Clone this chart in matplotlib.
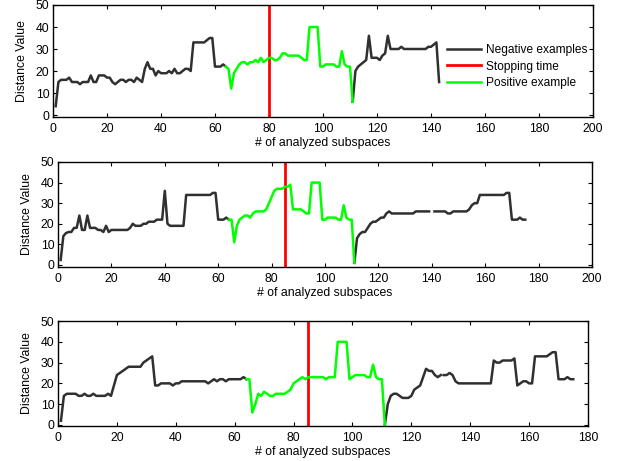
import numpy as np
import matplotlib
matplotlib.use("Agg")
import matplotlib.pyplot as plt

plt.rcParams['font.family'] = ['Liberation Sans', 'DejaVu Sans']
plt.rcParams['font.size'] = 8.5

# ---------------- data ----------------
# Panel 1
neg1a_x = list(range(1, 65))
neg1a_y = [4, 15, 16, 16, 16, 17, 15, 15, 15, 14, 15, 15, 15, 18, 15, 15, 18, 18, 18, 17,
           17, 15, 14, 15, 16, 16, 15, 16, 16, 15, 17, 16, 15, 21, 24, 21, 21, 18, 20, 19,
           19, 19, 20, 19, 21, 19, 19, 20, 21, 21, 20, 33, 33, 33, 33, 33, 34, 35, 35, 22,
           22, 22, 23, 22]
pos1_x = list(range(64, 112))
pos1_y = [22, 21, 12, 19, 21, 23, 24, 24, 23, 24, 24, 25, 24, 26, 24, 25, 26, 26, 25, 25,
          26, 28, 28, 27, 27, 27, 27, 27, 26, 25, 25, 40, 40, 40, 40, 22, 22, 23, 23, 23,
          23, 22, 22, 29, 23, 22, 22, 6]
neg1b_x = list(range(111, 144))
neg1b_y = [6, 20, 22, 23, 24, 25, 36, 26, 26, 26, 25, 27, 28, 36, 30, 30, 30, 30, 31, 30,
           30, 30, 30, 30, 30, 30, 30, 30, 31, 31, 32, 33, 15]
stop1 = 80

# Panel 2
neg2a_x = list(range(1, 65))
neg2a_y = [2.4, 14, 15.5, 16, 16, 18, 18, 24, 17, 17, 24, 18, 18, 18, 17, 17, 16, 19, 16, 17,
           17, 17, 17, 17, 17, 17, 18, 20, 19, 19, 19, 20, 20, 21, 21, 21, 22, 22, 22, 36,
           20, 19, 19, 19, 19, 19, 19, 34, 34, 34, 34, 34, 34, 34, 34, 34, 34, 35, 35, 22,
           22, 22, 23, 22]
pos2_x = list(range(64, 112))
pos2_y = [22, 22, 11, 19, 22, 23, 24, 24, 23, 25, 26, 26, 26, 26, 27, 30, 33, 36, 37, 37,
          37, 38, 38, 39, 27, 27, 27, 27, 26, 25, 25, 40, 40, 40, 40, 22, 22, 23, 23, 23,
          23, 22, 22, 29, 23, 22, 22, 1]
neg2b_x = list(range(111, 176))
neg2b_y = [1, 13, 15, 16, 16, 18, 20, 21, 21, 22, 23, 23, 25, 26, 25, 25, 25, 25, 25, 25,
           25, 25, 25, 26, 26, 26, 26, 26, 26, np.nan, 26, 26, 26, 26, 26, 25, 25, 26, 26, 26,
           26, 26, 26, 27, 29, 30, 30, 34, 34, 34, 34, 34, 34, 34, 34, 34, 34, 35, 35, 22,
           22, 22, 23, 22, 22]
stop2 = 85

# Panel 3
neg3a_x = list(range(1, 65))
neg3a_y = [2, 14, 15, 15, 15, 15, 14, 14, 15, 14, 14, 15, 14, 14, 14, 14, 15, 14, 19, 24,
           25, 26, 27, 28, 28, 28, 28, 28, 30, 31, 32, 33, 19, 19, 20, 20, 20, 20, 19, 20,
           20, 21, 21, 21, 21, 21, 21, 21, 21, 21, 20, 21, 22, 21, 22, 22, 21, 22, 22, 22,
           22, 22, 23, 22]
pos3_x = list(range(64, 112))
pos3_y = [22, 22, 6, 10, 15, 14, 16, 15, 14, 14, 15, 15, 15, 15, 16, 17, 20, 21, 22, 23,
          22, 23, 23, 23, 23, 23, 23, 22, 23, 23, 23, 40, 40, 40, 40, 22, 23, 24, 24, 24,
          24, 23, 23, 29, 23, 22, 22, 0]
neg3b_x = list(range(111, 131)) + [130.5] + list(range(131, 176))
neg3b_y = [0, 10, 14, 15, 15, 14, 13, 13, 13, 14, 17, 18, 19, 23, 27, 26, 26, 24, 23, 24,
           np.nan,
           24, 24, 25, 24, 21, 20, 20, 20, 20, 20, 20, 20, 20, 20, 20, 20, 20, 31, 30, 30,
           31, 31, 31, 31, 32, 19, 20, 21, 21, 20, 20, 33, 33, 33, 33, 33, 34, 35, 35, 22,
           22, 22, 23, 22, 22]
stop3 = 85

# ---------------- plotting ----------------
NEG = '#303030'
POS = '#00ff00'
STOP = '#ff0000'

W, H = 617, 461
fig = plt.figure(figsize=(W / 100, H / 100), dpi=100)

def rect(l, t, r, b):
    return [l / W, 1 - b / H, (r - l) / W, (b - t) / H]

panels = [
    dict(rect=rect(53, 5, 593, 117), xlim=(0, 200), ylim=(-0.9, 50),
         neg=[(neg1a_x, neg1a_y), (neg1b_x, neg1b_y)], pos=(pos1_x, pos1_y), stop=stop1,
         xticks=range(0, 201, 20), legend=True),
    dict(rect=rect(58, 162, 592, 267), xlim=(0, 200), ylim=(-1, 50),
         neg=[(neg2a_x, neg2a_y), (neg2b_x, neg2b_y)], pos=(pos2_x, pos2_y), stop=stop2,
         xticks=range(0, 201, 20), legend=False),
    dict(rect=rect(58, 321, 588, 426), xlim=(0, 180), ylim=(-0.5, 50),
         neg=[(neg3a_x, neg3a_y), (neg3b_x, neg3b_y)], pos=(pos3_x, pos3_y), stop=stop3,
         xticks=range(0, 181, 20), legend=False),
]

for p in panels:
    ax = fig.add_axes(p['rect'])
    h_neg = None
    for xs, ys in p['neg']:
        h_neg, = ax.plot(xs, ys, color=NEG, lw=1.8, solid_joinstyle='round')
    h_stop = ax.axvline(p['stop'], color=STOP, lw=2.0)
    h_pos, = ax.plot(p['pos'][0], p['pos'][1], color=POS, lw=1.8, solid_joinstyle='round')
    ax.set_xlim(*p['xlim'])
    ax.set_ylim(*p['ylim'])
    ax.set_xticks(list(p['xticks']))
    ax.set_yticks([0, 10, 20, 30, 40, 50])
    ax.tick_params(direction='in', top=True, right=True, length=3, width=0.8,
                   labelsize=8.8)
    ax.tick_params(axis='x', pad=4)
    ax.tick_params(axis='y', pad=2.5)
    for s in ax.spines.values():
        s.set_linewidth(1.0)
    ax.set_xlabel('# of analyzed subspaces', fontsize=8.8, labelpad=2)
    ax.set_ylabel('Distance Value', fontsize=8.8, labelpad=6)
    if p['legend']:
        ax.legend([h_neg, h_stop, h_pos],
                  ['Negative examples', 'Stopping time', 'Positive example'],
                  loc='center right', bbox_to_anchor=(0.99, 0.45), frameon=False,
                  fontsize=8.6, handlelength=2.9, handletextpad=0.4,
                  labelspacing=0.35, borderpad=0, borderaxespad=0)

fig.savefig('out.png', dpi=100)
